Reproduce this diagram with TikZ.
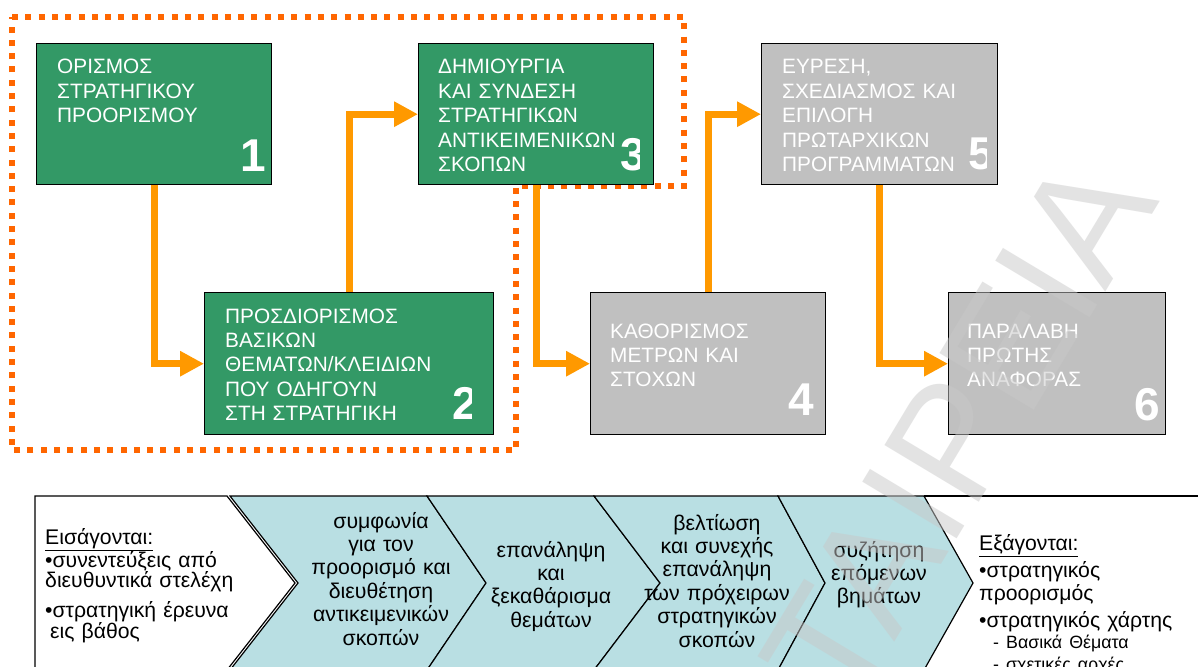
\documentclass[tikz,border=0pt]{standalone}
\usepackage{fontspec}
\setmainfont{Liberation Sans}
\usetikzlibrary{arrows.meta}
\definecolor{boxgreen}{HTML}{339966}
\definecolor{boxgrey}{HTML}{C0C0C0}
\definecolor{flow}{HTML}{FF9900}
\definecolor{phaseframe}{HTML}{FF6600}
\definecolor{chevfill}{HTML}{B9DFE3}
\definecolor{wmgrey}{HTML}{C8C8C8}
\begin{document}
\begin{tikzpicture}[x=1pt,y=-1pt,
  tightlines/.style={execute at begin node={\lineskiplimit=-100pt\relax}},
  flowbox/.style={draw=black, line width=1.4pt, inner sep=0pt, anchor=north west},
  greenbox/.style={flowbox, fill=boxgreen},
  greybox/.style={flowbox, fill=boxgrey},
  boxtext/.style={anchor=base west, inner sep=0pt, text=white, text width=280pt, align=left,
    font=\fontsize{20.8}{24.4}\selectfont, tightlines},
  stepnum/.style={anchor=base west, inner sep=0pt, text=white,
    font=\bfseries\fontsize{46}{46}\selectfont},
  flowline/.style={draw=flow, line width=7pt, -{Triangle[length=24pt,width=24pt]}},
  dotframe/.style={draw=phaseframe, line width=6pt, dash pattern=on 6pt off 7.3pt},
  chevron/.style={draw=black, line width=1.2pt, line join=miter},
  chevtext/.style={anchor=base, inner sep=0pt, text width=200pt, align=center,
    font=\fontsize{21.3}{23.4}\selectfont, tightlines},
  listtext/.style={anchor=base west, inner sep=0pt, text width=260pt, align=left, tightlines},
  watermark/.style={inner sep=0pt, text=wmgrey, opacity=0.5,
    font=\fontsize{160}{160}\selectfont}
]
\useasboundingbox (0,0) rectangle (1198,666);
\clip (0,0) rectangle (1198,666);
\fill[white] (0,0) rectangle (1198,666);

% dotted outline around the first three steps
\draw[dotframe] (12,17) -- (684,17) -- (684,186) -- (516,186) -- (516,450) -- (12,450) -- cycle;

% step boxes
\node[greenbox, minimum width=235pt, minimum height=141pt] (b1) at (36,43) {};
\node[greenbox, minimum width=235pt, minimum height=141pt] (b3) at (418,43) {};
\node[greybox,  minimum width=236pt, minimum height=141pt] (b5) at (761,43) {};
\node[greenbox, minimum width=289pt, minimum height=142pt] (b2) at (204,292) {};
\node[greybox,  minimum width=235pt, minimum height=142pt] (b4) at (590,292) {};
\node[greybox,  minimum width=217pt, minimum height=142pt] (b6) at (948,292) {};

% connectors between steps
\draw[flowline] (b1.south) |- (b2.west);
\draw[flowline] (b2.north) |- (b3.west);
\draw[flowline] (b3.south) |- (b4.west);
\draw[flowline] (b4.north) |- (b5.west);
\draw[flowline] (b5.south) |- (b6.west);

% step labels
\node[boxtext] (t1) at (57,74) {ΟΡΙΣΜΟΣ\\ΣΤΡΑΤΗΓΙΚΟΥ\\ΠΡΟΟΡΙΣΜΟΥ};
\node[boxtext] (t3) at (438,74) {ΔΗΜΙΟΥΡΓΙΑ\\ΚΑΙ ΣΥΝΔΕΣΗ\\ΣΤΡΑΤΗΓΙΚΩΝ\\ΑΝΤΙΚΕΙΜΕΝΙΚΩΝ\\ΣΚΟΠΩΝ};
\node[boxtext] (t5) at (782,74) {ΕΥΡΕΣΗ,\\ΣΧΕΔΙΑΣΜΟΣ ΚΑΙ\\ΕΠΙΛΟΓΗ\\ΠΡΩΤΑΡΧΙΚΩΝ\\ΠΡΟΓΡΑΜΜΑΤΩΝ};
\node[boxtext] (t2) at (225,323) {ΠΡΟΣΔΙΟΡΙΣΜΟΣ\\ΒΑΣΙΚΩΝ\\ΘΕΜΑΤΩΝ/ΚΛΕΙΔΙΩΝ\\ΠΟΥ ΟΔΗΓΟΥΝ\\ΣΤΗ ΣΤΡΑΤΗΓΙΚΗ};
\node[boxtext] (t4) at (610,338) {ΚΑΘΟΡΙΣΜΟΣ\\ΜΕΤΡΩΝ ΚΑΙ\\ΣΤΟΧΩΝ};
\node[boxtext] (t6) at (967,338) {ΠΑΡΑΛΑΒΗ\\ΠΡΩΤΗΣ\\ΑΝΑΦΟΡΑΣ};

% step numbers (some are cut by their text frames)
\node[stepnum] (n1) at (240,171) {1};
\begin{scope}
  \clip (b2.north west) rectangle ([xshift=-23pt]b2.south east);
  \node[stepnum] (n2) at (452,419) {2};
\end{scope}
\begin{scope}
  \clip (b3.north west) rectangle ([xshift=-15pt]b3.south east);
  \node[stepnum] (n3) at (620,170) {3};
\end{scope}
\node[stepnum] (n4) at (788,415) {4};
\begin{scope}
  \clip (b5.north west) rectangle ([xshift=-12pt]b5.south east);
  \node[stepnum] (n5) at (968,169) {5};
\end{scope}
\node[stepnum] (n6) at (1134,420) {6};

% process band
\draw[chevron, fill=white] (35,496) -- (227,496) -- (295,583) -- (227,670) -- (35,670) -- cycle;
\draw[chevron, fill=chevfill] (230,496) -- (427,496) -- (486,583) -- (427,670) -- (230,670) -- (298,583) -- cycle;
\draw[chevron, fill=chevfill] (427,496) -- (594,496) -- (660,583) -- (594,670) -- (427,670) -- (486,583) -- cycle;
\draw[chevron, fill=chevfill] (594,496) -- (778,496) -- (825,583) -- (778,670) -- (594,670) -- (660,583) -- cycle;
\draw[chevron, fill=chevfill] (778,496) -- (924,496) -- (973,583) -- (924,670) -- (778,670) -- (825,583) -- cycle;
\draw[chevron] (924,496) -- (1198,496);

\node[chevtext] (c2) at (381,528) {συμφωνία\\για τον\\προορισμό και\\διευθέτηση\\αντικειμενικών\\σκοπών};
\node[chevtext] (c3) at (551,557) {επανάληψη\\και\\ξεκαθάρισμα\\θεμάτων};
\node[chevtext] (c4) at (717,530) {βελτίωση\\και συνεχής\\επανάληψη\\των πρόχειρων\\στρατηγικών\\σκοπών};
\node[chevtext] (c5) at (879,557) {συζήτηση\\επόμενων\\βημάτων};

\node[listtext, font=\fontsize{21.2}{20.5}\selectfont] (inputs) at (45,544)
  {\underline{Εισάγονται:}\\[2.5pt]
   •συνεντεύξεις από\\
   διευθυντικά στελέχη\\[9.5pt]
   •στρατηγική έρευνα\\
   \hspace*{5pt}εις βάθος};
\node[listtext, font=\fontsize{21.2}{21}\selectfont] (outputs) at (979,550)
  {\underline{Εξάγονται:}\\[6pt]
   •στρατηγικός\\[2pt]
   προορισμός\\[6pt]
   •στρατηγικός χάρτης\\
   {\fontsize{17.8}{21}\selectfont\hspace*{14pt}- Βασικά Θέματα}\\[1pt]
   {\fontsize{17.8}{21}\selectfont\hspace*{14pt}- σχετικές αρχές}};

% watermark across the right half
\node[watermark, rotate=59] (wm) at (931,476) {ΕΤΑΙΡΕΙΑ};
\end{tikzpicture}
\end{document}
